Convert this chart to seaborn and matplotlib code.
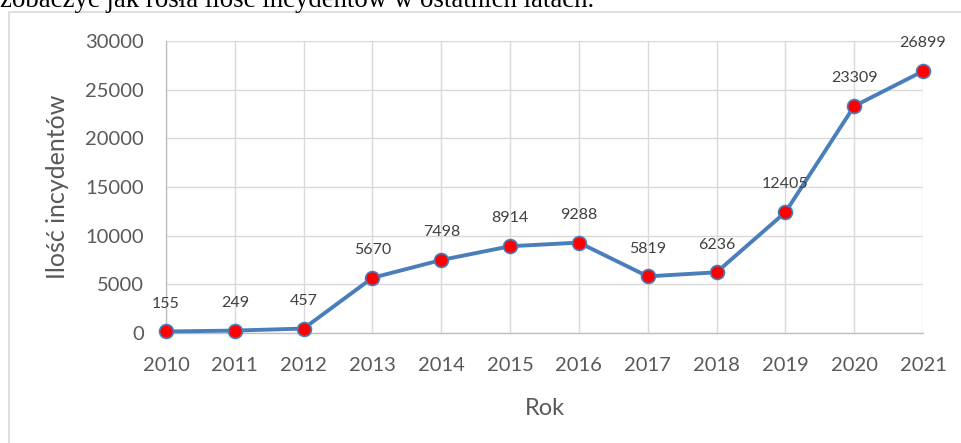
import numpy as np
import pandas as pd
import seaborn as sns
import matplotlib.pyplot as plt
from matplotlib.patches import Rectangle

years = [2010, 2011, 2012, 2013, 2014, 2015, 2016, 2017, 2018, 2019, 2020, 2021]
incidents = [155, 249, 457, 5670, 7498, 8914, 9288, 5819, 6236, 12405, 23309, 26899]
y_ticks = [0, 5000, 10000, 15000, 20000, 25000, 30000]

df = pd.DataFrame({'Rok': years, 'incydenty': incidents})

sns.set_theme(style='whitegrid')
plt.rcParams['font.family'] = ['Lato', 'DejaVu Sans']

GRAY = '#595959'
GRID = '#D9D9D9'
BLUE = '#4A7EBB'

fig = plt.figure(figsize=(9.61, 4.43), dpi=100)
# plot area: 2010 at x=166, 2021 at x=923, 0 at y=333, 30000 at y=41
ax = fig.add_axes([166 / 961, 110 / 443, 757 / 961, 292 / 443])

sns.lineplot(data=df, x='Rok', y='incydenty', ax=ax, color=BLUE, linewidth=2.8,
             marker='o', markersize=10, markerfacecolor='red', markeredgecolor=BLUE,
             markeredgewidth=1.2, zorder=3, clip_on=False)

for x, y in zip(years, incidents):
    ax.annotate(str(y), (x, y), xytext=(0, 20), textcoords='offset points',
                ha='center', va='center', fontsize=11.5, color='#404040')

ax.set_xlim(2010, 2021)
ax.set_ylim(0, 30000)
ax.set_xticks(years)
ax.set_yticks(y_ticks)
ax.tick_params(axis='both', labelsize=14.5, labelcolor=GRAY, length=0)
ax.tick_params(axis='x', pad=17)
ax.tick_params(axis='y', pad=16)
ax.grid(True, color=GRID, linewidth=1.0)
ax.set_facecolor('white')
for side in ['top', 'right']:
    ax.spines[side].set_visible(False)
ax.spines['left'].set_color('#BFBFBF')
ax.spines['bottom'].set_color('#BFBFBF')
ax.spines['left'].set_linewidth(1.0)
ax.spines['bottom'].set_linewidth(1.0)
ax.set_xlabel('Rok', fontsize=17, color=GRAY)
ax.set_ylabel('Ilość incydentów', fontsize=18, color=GRAY)
ax.xaxis.set_label_coords(0.5, -65 / 292)
ax.yaxis.set_label_coords(-97 / 757, 0.5)

# chart frame
fig.patches.append(Rectangle((9 / 961, -0.1), 1.0, 1.1 - 12 / 443, transform=fig.transFigure,
                             fill=False, edgecolor=GRID, linewidth=1.2))

fig.text(0.0, 1 - 7 / 443, 'zobaczyć jak rosła ilość incydentów w ostatnich latach.',
         fontsize=19.3, family='Liberation Serif', color='black', ha='left', va='baseline')

plt.savefig('out.png', dpi=100)
